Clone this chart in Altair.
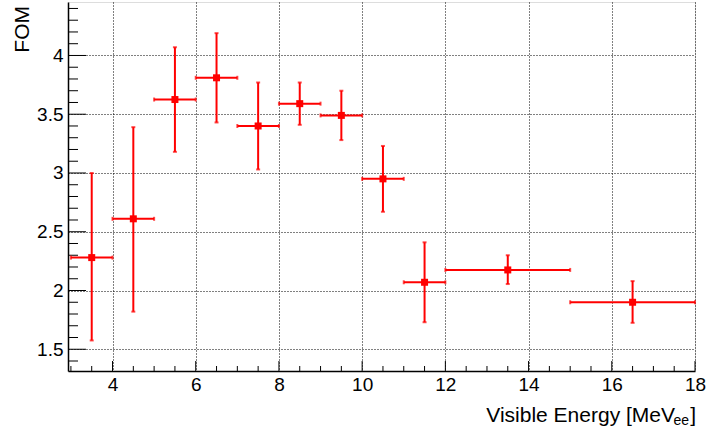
import altair as alt
import pandas as pd

# ---- data ----
bin_lo = [3, 4, 5, 6, 7, 8, 9, 10, 11, 12, 15]
bin_hi = [4, 5, 6, 7, 8, 9, 10, 11, 12, 15, 18]
bin_center = [3.5, 4.5, 5.5, 6.5, 7.5, 8.5, 9.5, 10.5, 11.5, 13.5, 16.5]
fom = [2.28, 2.61, 3.625, 3.81, 3.40, 3.59, 3.49, 2.95, 2.07, 2.175, 1.90]
fom_hi = [3.00, 3.39, 4.07, 4.19, 3.77, 3.77, 3.70, 3.23, 2.41, 2.30, 2.08]
fom_lo = [1.575, 1.82, 3.18, 3.43, 3.03, 3.41, 3.28, 2.67, 1.73, 2.055, 1.725]

x_major = [4, 6, 8, 10, 12, 14, 16, 18]
x_minor = [3, 3.5, 4.5, 5, 5.5, 6.5, 7, 7.5, 8.5, 9, 9.5, 10.5, 11, 11.5,
           12.5, 13, 13.5, 14.5, 15, 15.5, 16.5, 17, 17.5]
y_major = [1.5, 2, 2.5, 3, 3.5, 4]
y_minor = [1.4, 1.6, 1.7, 1.8, 1.9, 2.1, 2.2, 2.3, 2.4, 2.6, 2.7, 2.8, 2.9,
           3.1, 3.2, 3.3, 3.4, 3.6, 3.7, 3.8, 3.9, 4.1, 4.2, 4.3, 4.4]

W, H = 627, 369
FONT = "Liberation Sans"
RED = "#ff0000"

df = pd.DataFrame(dict(lo=bin_lo, hi=bin_hi, c=bin_center, v=fom, ehi=fom_hi, elo=fom_lo))

xs = alt.Scale(domain=[2.93, 18], nice=False, zero=False)
ys = alt.Scale(domain=[1.315, 4.455], nice=False, zero=False)
xaxis = alt.Axis(values=x_major, grid=True, gridDash=[1, 2], gridColor="black",
                 gridOpacity=1, gridWidth=1, ticks=False, labelFontSize=19,
                 labelFont=FONT, labelColor="black", labelPadding=4, domainColor="black",
                 domainWidth=1.5, title=None, format="~g", labelFlush=False)
yaxis = alt.Axis(values=y_major, grid=True, gridDash=[1, 2], gridColor="black",
                 gridOpacity=1, gridWidth=1, ticks=False, labelFontSize=19,
                 labelFont=FONT, labelColor="black", labelPadding=5, domainColor="black",
                 domainWidth=1.5, title=None, format="~g", labelFlush=False)


def X(f):
    return alt.X(f, type="quantitative", scale=xs, axis=xaxis)


def Y(f):
    return alt.Y(f, type="quantitative", scale=ys, axis=yaxis)


base = alt.Chart(df)

hbar = base.mark_rule(color=RED, strokeWidth=2).encode(x=X("lo"), x2="hi", y=Y("v"))
vbar = base.mark_rule(color=RED, strokeWidth=2).encode(x=X("c"), y=Y("elo"), y2="ehi")
cap_top = base.mark_tick(color=RED, orient="horizontal", size=4, thickness=2).encode(x=X("c"), y=Y("ehi"))
cap_bot = base.mark_tick(color=RED, orient="horizontal", size=4, thickness=2).encode(x=X("c"), y=Y("elo"))
cap_l = base.mark_tick(color=RED, orient="vertical", size=4, thickness=2).encode(x=X("lo"), y=Y("v"))
cap_r = base.mark_tick(color=RED, orient="vertical", size=4, thickness=2).encode(x=X("hi"), y=Y("v"))
pts = base.mark_square(color=RED, size=49, opacity=1).encode(x=X("c"), y=Y("v"))

ymaj = alt.Chart(pd.DataFrame({"t": y_major})).mark_rule(color="black", strokeWidth=1).encode(
    y=Y("t"), x=alt.value(0), x2=alt.value(18))
ymin = alt.Chart(pd.DataFrame({"t": y_minor})).mark_rule(color="black", strokeWidth=1).encode(
    y=Y("t"), x=alt.value(0), x2=alt.value(10))
xmaj = alt.Chart(pd.DataFrame({"t": x_major})).mark_rule(color="black", strokeWidth=1).encode(
    x=X("t"), y=alt.value(H), y2=alt.value(H - 10))
xmin = alt.Chart(pd.DataFrame({"t": x_minor})).mark_rule(color="black", strokeWidth=1).encode(
    x=X("t"), y=alt.value(H), y2=alt.value(H - 5))

one = pd.DataFrame({"a": [0]})
xt_main = alt.Chart(one).mark_text(text="Visible Energy [MeV", font=FONT, fontSize=21,
                                   align="right", baseline="alphabetic", color="black").encode(
    x=alt.value(W - 20), y=alt.value(H + 51))
xt_sub = alt.Chart(one).mark_text(text="ee", font=FONT, fontSize=14,
                                  align="right", baseline="alphabetic", color="black").encode(
    x=alt.value(W - 6), y=alt.value(H + 54))
xt_end = alt.Chart(one).mark_text(text="]", font=FONT, fontSize=21,
                                  align="right", baseline="alphabetic", color="black").encode(
    x=alt.value(W + 1), y=alt.value(H + 51))
yt = alt.Chart(one).mark_text(text="FOM", font=FONT, fontSize=21, angle=270,
                              align="right", baseline="alphabetic", color="black").encode(
    x=alt.value(-39), y=alt.value(4))

chart = alt.layer(
    ymin, ymaj, xmin, xmaj, hbar, vbar, cap_top, cap_bot, cap_l, cap_r, pts,
    xt_main, xt_sub, xt_end, yt
).properties(
    width=W, height=H,
    autosize=alt.AutoSizeParams(type="none"),
    padding={"left": 68, "top": 2, "right": 11, "bottom": 58},
).configure_view(
    stroke="#444444", strokeWidth=1.5
).configure(background="white")

chart.save("out.html", embed_options={"renderer": "svg", "actions": False})
